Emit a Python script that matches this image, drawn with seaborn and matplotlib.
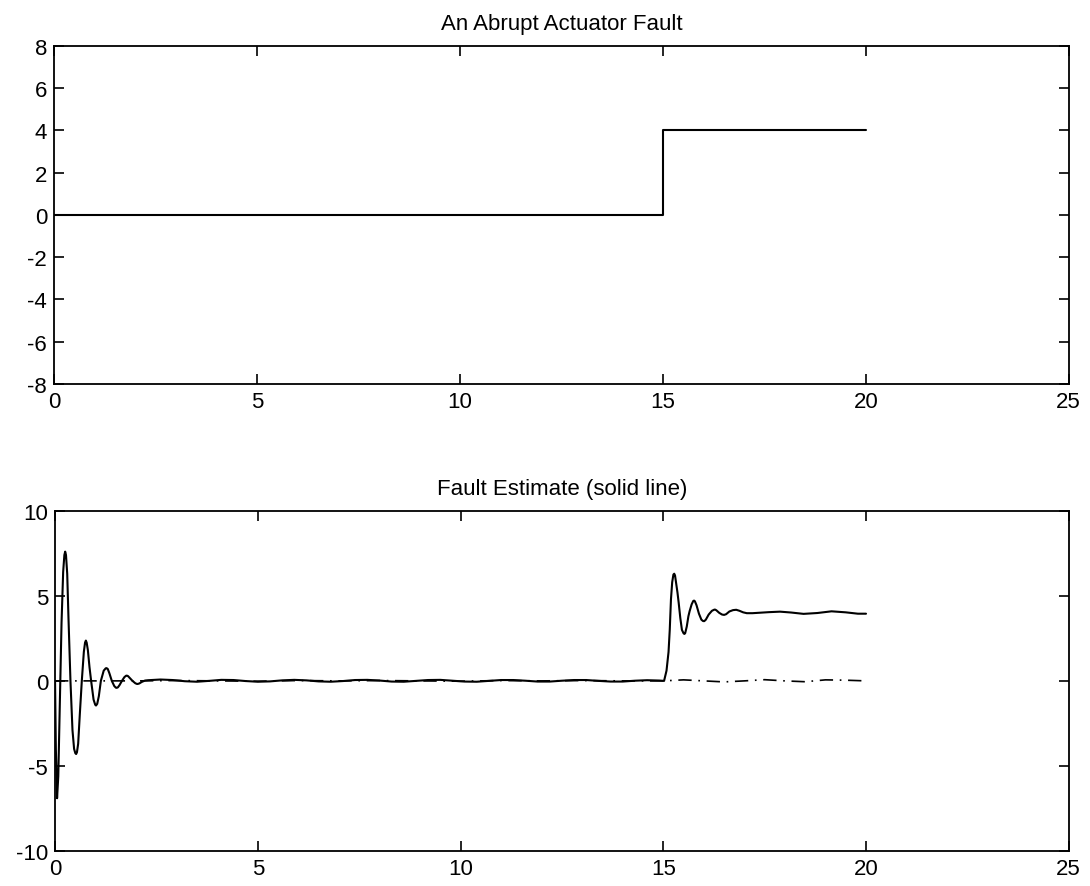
import numpy as np
import pandas as pd
import matplotlib
matplotlib.use("Agg")
import matplotlib.pyplot as plt
import seaborn as sns

# ---------------- data ----------------
# Top panel: abrupt actuator fault (step at t = 15)
fault_t = [0, 15, 15, 20]
fault_v = [0, 0, 4, 4]

# Bottom panel: fault estimate (solid line)
est_t = [0.00, 0.02, 0.05, 0.08, 0.12, 0.16, 0.20, 0.23, 0.25, 0.27, 0.30, 0.33, 0.38,
         0.43, 0.47, 0.50, 0.52, 0.54, 0.57, 0.61, 0.66, 0.71, 0.74, 0.76, 0.78, 0.81,
         0.85, 0.89, 0.95, 0.99, 1.01, 1.04, 1.08, 1.13, 1.20, 1.25, 1.27, 1.30, 1.34,
         1.40, 1.46, 1.50, 1.52, 1.55, 1.59, 1.65, 1.71, 1.75, 1.77, 1.80, 1.85, 1.91,
         1.98, 2.02, 2.04, 2.08, 2.14, 2.22,
         2.3, 2.6, 2.9, 3.2, 3.5, 3.8, 4.1, 4.4, 4.7, 5.0, 5.3, 5.6, 5.9, 6.2, 6.5,
         6.8, 7.1, 7.4, 7.7, 8.0, 8.3, 8.6, 8.9, 9.2, 9.5, 9.8, 10.1, 10.4, 10.7,
         11.0, 11.3, 11.6, 11.9, 12.2, 12.5, 12.8, 13.1, 13.4, 13.7, 14.0, 14.3,
         14.6, 14.9, 15.02,
         15.08, 15.13, 15.16, 15.19, 15.22, 15.25, 15.27, 15.29, 15.32, 15.35, 15.38,
         15.42, 15.46, 15.50, 15.52, 15.54, 15.58, 15.62, 15.65, 15.70, 15.74, 15.76,
         15.78, 15.82, 15.88, 15.94, 15.98, 16.01, 16.05, 16.12, 16.20, 16.26, 16.28,
         16.31, 16.38, 16.45, 16.50, 16.55, 16.63, 16.72, 16.80, 16.88, 16.97, 17.06,
         17.20, 17.39, 17.60, 17.88, 18.15, 18.46, 18.80, 19.15, 19.50, 19.80, 20.00]
est_v = [0.00, -4.0, -6.9, -5.6, -1.2, 3.4, 6.4, 7.4, 7.6, 7.4, 6.3, 3.8, 0.0,
         -2.9, -4.0, -4.25, -4.3, -4.2, -3.7, -2.0, 0.0, 1.7, 2.25, 2.37, 2.25, 1.8,
         0.8, 0.0, -1.1, -1.4, -1.45, -1.35, -0.9, 0.0, 0.6, 0.74, 0.75, 0.7, 0.45,
         0.0, -0.3, -0.4, -0.41, -0.38, -0.25, 0.0, 0.22, 0.3, 0.31, 0.28, 0.15, 0.0,
         -0.14, -0.18, -0.18, -0.15, -0.06, 0.02,
         0.04, 0.08, 0.05, -0.02, -0.05, 0.0, 0.06, 0.05, -0.01, -0.05, -0.03, 0.03,
         0.06, 0.03, -0.03, -0.05, -0.01, 0.05, 0.06, 0.02, -0.04, -0.05, 0.0, 0.05,
         0.06, 0.01, -0.04, -0.05, 0.0, 0.05, 0.05, 0.01, -0.04, -0.04, 0.01, 0.05,
         0.05, 0.0, -0.04, -0.04, 0.01, 0.04, 0.02, 0.0,
         0.6, 1.7, 3.0, 4.8, 5.8, 6.25, 6.3, 6.2, 5.7, 5.2, 4.6,
         3.7, 3.0, 2.8, 2.76, 2.8, 3.2, 3.8, 4.1, 4.5, 4.7, 4.72,
         4.68, 4.45, 3.95, 3.6, 3.52, 3.51, 3.6, 3.9, 4.12, 4.19, 4.19,
         4.15, 4.0, 3.9, 3.88, 3.92, 4.08, 4.16, 4.18, 4.12, 4.03, 3.98,
         3.98, 4.01, 4.04, 4.07, 4.02, 3.94, 3.99, 4.09, 4.03, 3.95, 3.95]

# Bottom panel: second estimate (dash-dot line), close to zero
alt_t = [0.0, 1.0, 2.0, 3.0, 4.0, 5.0, 6.0, 7.0, 8.0, 9.0, 10.0, 11.0, 12.0, 13.0,
         14.0, 15.0, 15.5, 16.0, 16.5, 17.0, 17.5, 18.0, 18.5, 19.0, 19.5, 20.0]
alt_v = [0.0, 0.0, 0.0, 0.02, 0.0, -0.02, 0.02, 0.0, 0.02, 0.0, -0.02, 0.02, 0.0,
         0.02, 0.0, 0.0, 0.06, 0.0, -0.06, 0.0, 0.07, 0.0, -0.05, 0.06, 0.04, 0.0]

x_ticks = [0, 5, 10, 15, 20, 25]
top_yticks = [-8, -6, -4, -2, 0, 2, 4, 6, 8]
bot_yticks = [-10, -5, 0, 5, 10]
top_title = "An Abrupt Actuator Fault"
bot_title = "Fault Estimate (solid line)"

# ---------------- style ----------------
sns.set_style("ticks")
plt.rcParams['font.family'] = ['Liberation Sans', 'DejaVu Sans']
plt.rcParams['axes.unicode_minus'] = False
plt.rcParams['text.color'] = 'black'
plt.rcParams['xtick.color'] = 'black'
plt.rcParams['ytick.color'] = 'black'
plt.rcParams['xtick.direction'] = 'in'
plt.rcParams['ytick.direction'] = 'in'

fig = plt.figure(figsize=(10.9, 8.87), dpi=100)
ax1 = fig.add_axes([0.0495, 0.566, 0.931, 0.381])
ax2 = fig.add_axes([0.0505, 0.0395, 0.930, 0.3835])

df_fault = pd.DataFrame({"t": fault_t, "v": fault_v})
df_est = pd.DataFrame({"t": est_t, "v": est_v})
df_alt = pd.DataFrame({"t": alt_t, "v": alt_v})

sns.lineplot(data=df_fault, x="t", y="v", ax=ax1, color="black", lw=1.5,
             estimator=None, sort=False)
sns.lineplot(data=df_alt, x="t", y="v", ax=ax2, color="black", lw=1.2,
             estimator=None, sort=False, linestyle=(0, (8, 4, 1, 4)))
sns.lineplot(data=df_est, x="t", y="v", ax=ax2, color="black", lw=1.5,
             estimator=None, sort=False)

for ax, yt, ttl in [(ax1, top_yticks, top_title), (ax2, bot_yticks, bot_title)]:
    ax.set_xlim(0, 25)
    ax.set_ylim(yt[0], yt[-1])
    ax.set_xticks(x_ticks)
    ax.set_yticks(yt)
    ax.set_xlabel("")
    ax.set_ylabel("")
    ax.set_title(ttl, fontsize=16, pad=12, color='black')
    ax.tick_params(axis='both', which='both', direction='in', length=7, width=1.2,
                   labelsize=16, top=True, right=True, pad=5, color='black',
                   labelcolor='black')
    for s in ax.spines.values():
        s.set_visible(True)
        s.set_linewidth(1.3)
        s.set_color('black')

fig.savefig("out.png", dpi=100)
